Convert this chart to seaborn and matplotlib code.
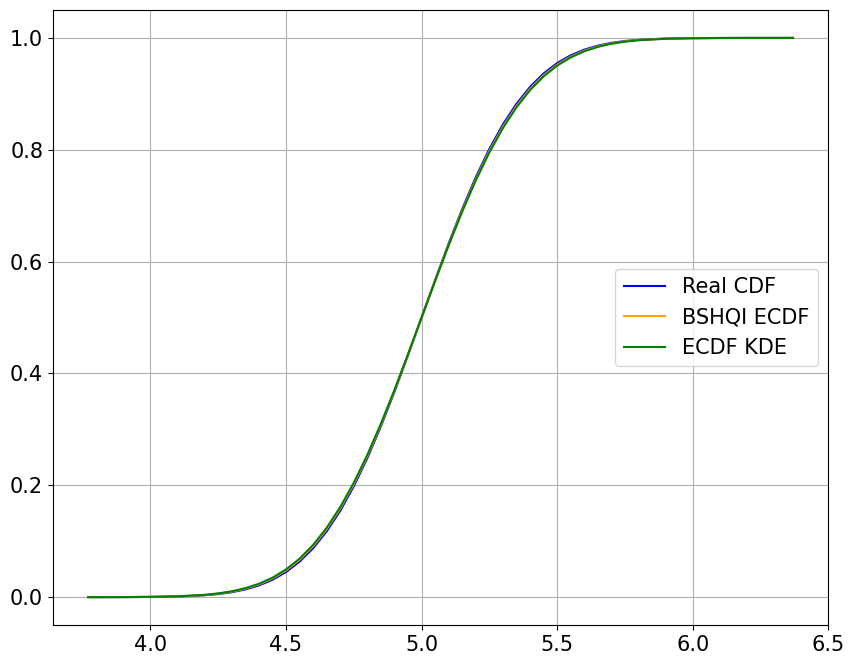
import matplotlib
matplotlib.use("Agg")
import matplotlib.pyplot as plt
import pandas as pd
import seaborn as sns

# values
x_grid = [3.77, 3.9, 4.0, 4.1, 4.2, 4.25, 4.3, 4.35, 4.4, 4.45, 4.5, 4.55,
          4.6, 4.65, 4.7, 4.75, 4.8, 4.85, 4.9, 4.95, 5.0, 5.05, 5.1, 5.15,
          5.2, 5.25, 5.3, 5.35, 5.4, 5.45, 5.5, 5.55, 5.6, 5.65, 5.7, 5.75,
          5.8, 5.9, 6.0, 6.1, 6.2, 6.37]
real_cdf = [0.0, 0.0001, 0.0004, 0.0011, 0.0034, 0.0055, 0.0088, 0.0138,
            0.0210, 0.0311, 0.0450, 0.0636, 0.0876, 0.1178, 0.1546, 0.1985,
            0.2489, 0.3057, 0.3673, 0.4328, 0.5, 0.5672, 0.6327, 0.6943,
            0.7511, 0.8015, 0.8454, 0.8822, 0.9124, 0.9364, 0.9550, 0.9689,
            0.9790, 0.9862, 0.9912, 0.9945, 0.9966, 0.9989, 0.9996, 0.9999,
            1.0, 1.0]
bshqi_ecdf = [0.0, 0.0001, 0.0004, 0.0013, 0.0038, 0.0062, 0.0098, 0.0151,
              0.0228, 0.0334, 0.0478, 0.0668, 0.0912, 0.1216, 0.1587, 0.2023,
              0.2525, 0.3085, 0.3694, 0.4338, 0.5, 0.5662, 0.6306, 0.6915,
              0.7475, 0.7977, 0.8413, 0.8784, 0.9088, 0.9332, 0.9522, 0.9666,
              0.9772, 0.9849, 0.9902, 0.9938, 0.9962, 0.9987, 0.9996, 0.9999,
              1.0, 1.0]
ecdf_kde = [0.0, 0.0001, 0.0005, 0.0015, 0.0041, 0.0067, 0.0104, 0.0160,
            0.0239, 0.0348, 0.0495, 0.0688, 0.0934, 0.1240, 0.1611, 0.2047,
            0.2546, 0.3103, 0.3707, 0.4345, 0.5, 0.5655, 0.6293, 0.6897,
            0.7454, 0.7953, 0.8389, 0.8760, 0.9066, 0.9312, 0.9505, 0.9652,
            0.9761, 0.9840, 0.9896, 0.9933, 0.9959, 0.9985, 0.9995, 0.9999,
            1.0, 1.0]

df = pd.DataFrame({"x": x_grid, "Real CDF": real_cdf,
                   "BSHQI ECDF": bshqi_ecdf, "ECDF KDE": ecdf_kde})

plt.rcParams["font.size"] = 15

fig, ax = plt.subplots(figsize=(8.53, 6.65), dpi=100)
for label, color in zip(["Real CDF", "BSHQI ECDF", "ECDF KDE"],
                        ["blue", "orange", "green"]):
    sns.lineplot(data=df, x="x", y=label, label=label, color=color, ax=ax,
                 linewidth=1.5)

ax.set_xlabel("")
ax.set_ylabel("")
ax.grid(True)
ax.legend(loc="center right")
fig.subplots_adjust(left=0.062, right=0.971, top=0.985, bottom=0.06)
fig.savefig("out.png")
plt.close()
